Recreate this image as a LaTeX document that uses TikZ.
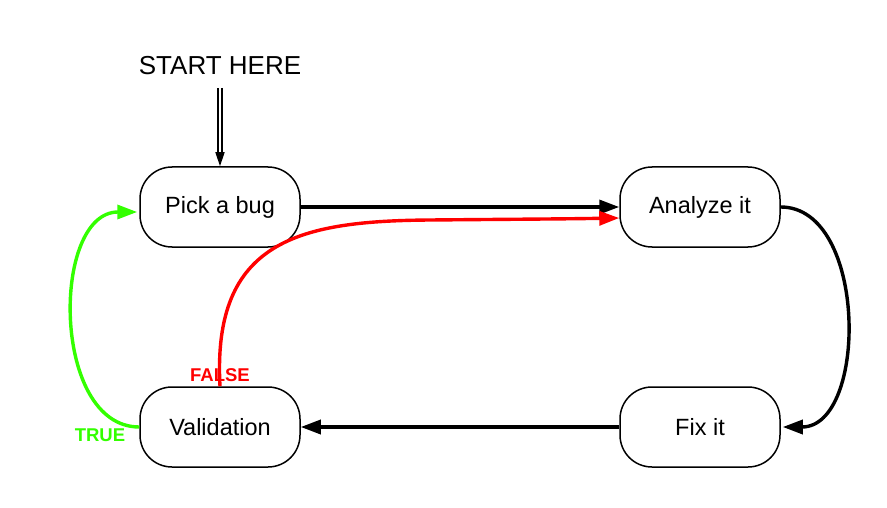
\documentclass[tikz,border=0pt]{standalone}
\usepackage{fontspec}
\setmainfont{Liberation Sans}
\usetikzlibrary{arrows.meta}
\definecolor{tgreen}{HTML}{33FF00}
\definecolor{tred}{HTML}{FF0000}
\begin{document}
\begin{tikzpicture}[x=1pt,y=-1pt,
  state/.style={draw, line width=1.5pt, rounded corners=32pt, minimum width=160pt, minimum height=80pt, inner sep=0pt, font=\fontsize{23.5}{26}\selectfont},
  flow/.style={line width=3.4pt, -{Triangle[length=20pt,width=14pt]}},
  lbl/.style={font=\bfseries\fontsize{18.5}{20}\selectfont, inner sep=0pt}]
\useasboundingbox (0,0) rectangle (887,508);
\node (start) at (220,66) [font=\fontsize{26}{28}\selectfont, inner sep=0pt] {START HERE};
\node[state] (pick) at (220,207) {Pick a bug};
\node[state] (analyze) at (700,207) {Analyze it};
\node[state] (valid) at (220,427) {Validation};
\node[state] (fix) at (700,427) {Fix it};
\coordinate (s0) at (220,88);
\draw[double, double distance=2.5pt, line width=1.5pt, -{Triangle[length=14pt,width=9pt]}] (s0) -- (pick.north);
\draw[flow] (pick.east) -- (analyze.west);
\draw[flow] (analyze.east) .. controls (868,207) and (868,427) .. ([xshift=2pt]fix.east);
\draw[flow] (fix.west) -- (valid.west -| pick.east);
\draw[flow, tred] (valid.north) .. controls (212,240) and (300,221) .. (430,220) .. controls (540,219) and (560,219) .. ([yshift=-11pt]analyze.west);
\draw[flow, tgreen] (valid.west) .. controls (51,427) and (51,212) .. ([yshift=-5pt,xshift=-2pt]pick.west);
\node[lbl, text=tred] (false) at (220,375) {FALSE};
\node[lbl, text=tgreen] (true) at (100,435) {TRUE};
\end{tikzpicture}
\end{document}
